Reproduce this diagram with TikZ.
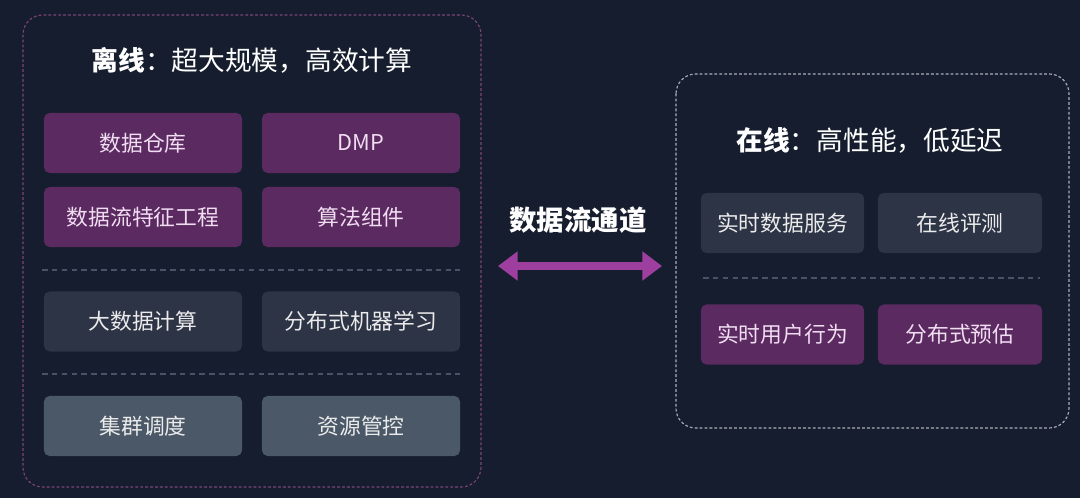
\documentclass[tikz,border=0pt]{standalone}
\usepackage{fontspec}
\setmainfont{Noto Sans CJK SC}
\usetikzlibrary{arrows.meta}

\definecolor{bgnavy}{HTML}{151D2E}
\definecolor{boxpurple}{HTML}{5A2A60}
\definecolor{boxslate}{HTML}{2D3446}
\definecolor{boxsteel}{HTML}{4A5868}
\definecolor{pinkdash}{HTML}{7E4474}
\definecolor{greydash}{HTML}{A9AEB8}
\definecolor{sepline}{HTML}{4A5366}
\definecolor{arrowmag}{HTML}{9E3FA0}
\definecolor{lilactext}{HTML}{F1DDF2}

\tikzset{
  cell/.style={rounded corners=4pt, minimum height=1.5cm, inner sep=0pt,
    font=\fontsize{15.5}{18}\selectfont},
  purplecell/.style={cell, fill=boxpurple, text=lilactext},
  slatecell/.style={cell, fill=boxslate, text=white!92!black},
  steelcell/.style={cell, fill=boxsteel, text=white!92!black},
  heading/.style={text=white, font=\fontsize{19}{22}\selectfont},
  separator/.style={sepline, thick, dash pattern=on 4pt off 3pt}
}

\begin{document}
\begin{tikzpicture}[x=0.025cm, y=-0.025cm]
\fill [bgnavy] (0,0) rectangle (1080,498);
\useasboundingbox (0,0) rectangle (1080,498);

% offline side
\draw [pinkdash, thick, dash pattern=on 2pt off 1.5pt, rounded corners=14pt] (23,15) rectangle (481,487);
\node [heading] (offtitle) at (252,60) {{\bfseries 离线}：超大规模，高效计算};

\node [purplecell, minimum width=4.95cm] (warehouse) at (143,143) {数据仓库};
\node [purplecell, minimum width=4.95cm] (dmp) at (361,143) {DMP};
\node [purplecell, minimum width=4.95cm] (streamfeat) at (143,217) {数据流特征工程};
\node [purplecell, minimum width=4.95cm] (algo) at (361,217) {算法组件};

\draw [separator] (42,270) -- (460,270);

\node [slatecell, minimum width=4.95cm] (bigdata) at (143,321.5) {大数据计算};
\node [slatecell, minimum width=4.95cm] (distml) at (361,321.5) {分布式机器学习};

\draw [separator] (42,374) -- (460,374);

\node [steelcell, minimum width=4.95cm] (sched) at (143,426) {集群调度};
\node [steelcell, minimum width=4.95cm] (resource) at (361,426) {资源管控};

% data channel
\node [heading, font=\fontsize{19.5}{22}\selectfont\bfseries] (channel) at (578,220) {数据流通道};
\coordinate (chanL) at (498,266);
\coordinate (chanR) at (662,266);
\draw [arrowmag, line width=6pt, {Triangle[length=14pt,width=20pt]}-{Triangle[length=14pt,width=20pt]}] (chanL) -- (chanR);

% online side
\draw [greydash, thick, dash pattern=on 2pt off 1.5pt, rounded corners=14pt] (676,74) rectangle (1069,428);
\node [heading] (ontitle) at (870,140) {{\bfseries 在线}：高性能，低延迟};

\node [slatecell, minimum width=4.08cm] (rtdata) at (782.5,223) {实时数据服务};
\node [slatecell, minimum width=4.1cm] (oneval) at (960,223) {在线评测};

\draw [separator] (703,278) -- (1040,278);

\node [purplecell, minimum width=4.08cm] (rtuser) at (782.5,334.5) {实时用户行为};
\node [purplecell, minimum width=4.1cm] (distpred) at (960,334.5) {分布式预估};

\end{tikzpicture}
\end{document}
